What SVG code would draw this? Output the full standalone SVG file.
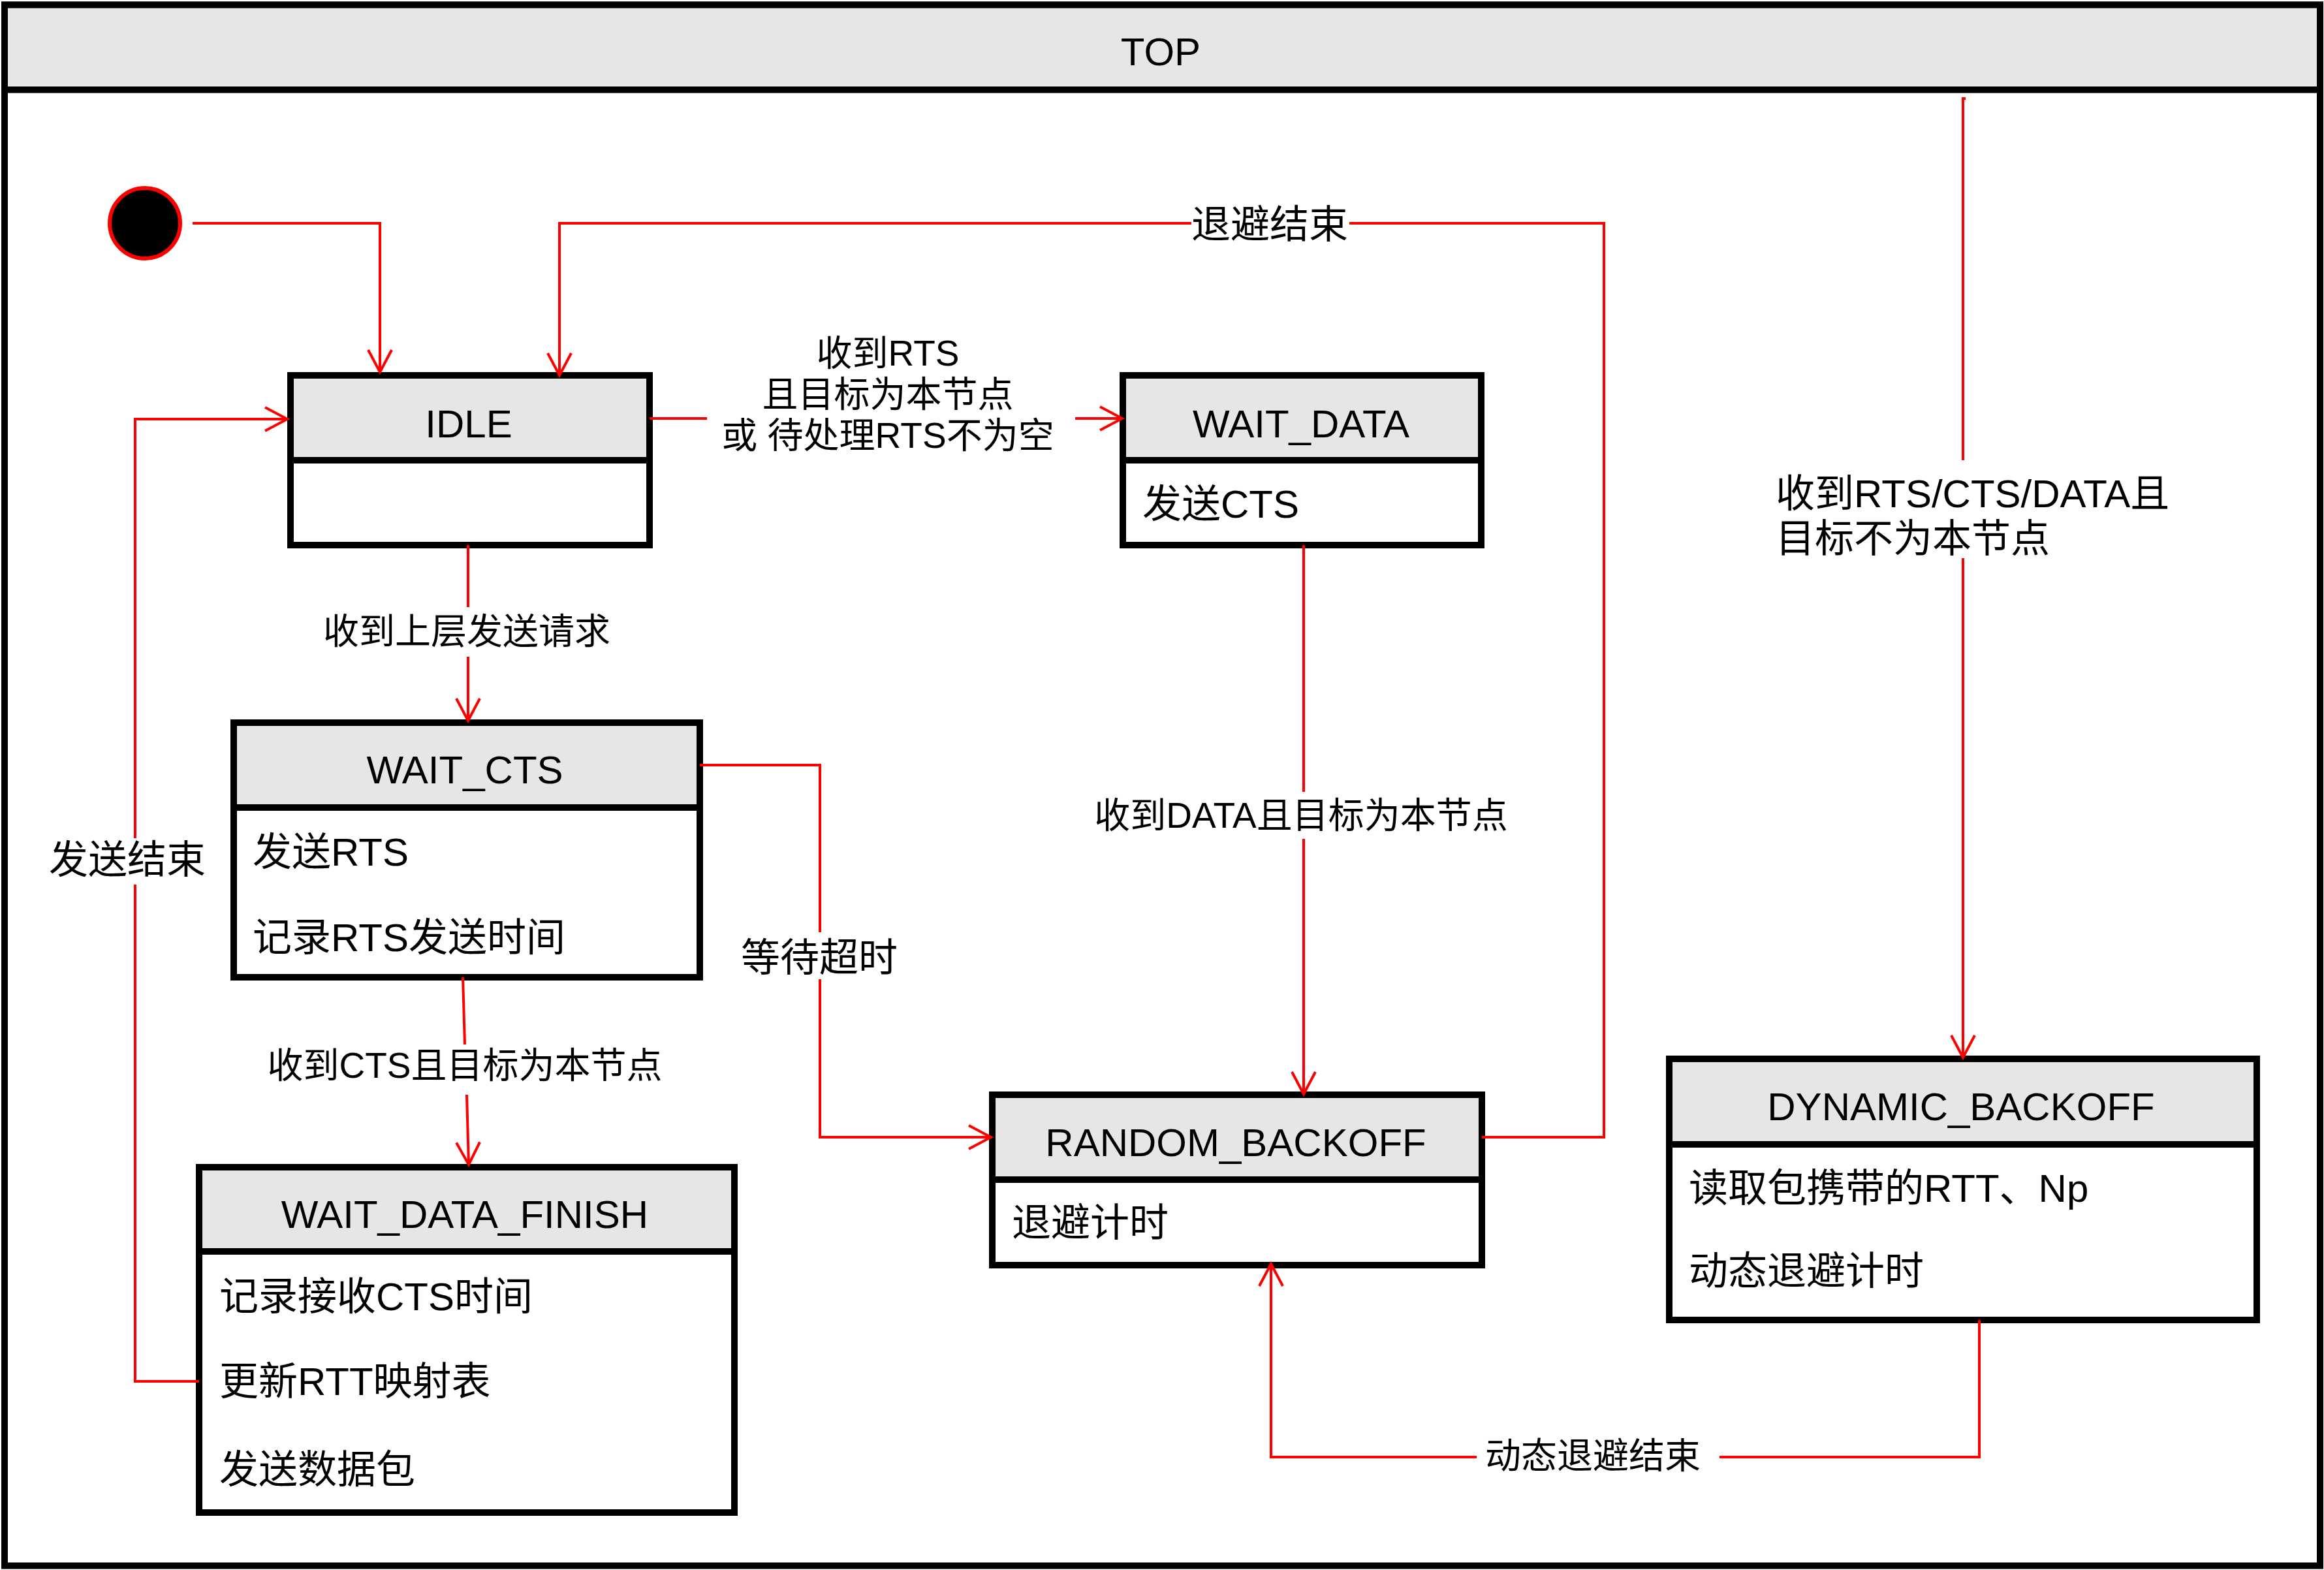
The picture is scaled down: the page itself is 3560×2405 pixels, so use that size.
<svg xmlns="http://www.w3.org/2000/svg" width="3560" height="2405" viewBox="0 0 3560 2405">
<defs>
<style>
text{font-family:"Liberation Sans","Noto Sans CJK SC",sans-serif;fill:#000}
.box{fill:#fff;stroke:#000;stroke-width:10}
.hdr{fill:#e6e6e6;stroke:#000;stroke-width:10}
.t{font-size:60px;text-anchor:middle}
.b{font-size:60px}
.l{font-size:55px;text-anchor:middle}
.l58{font-size:60px;text-anchor:middle}
.c{fill:none;stroke:#f00;stroke-width:4}
.a{marker-end:url(#arr)}
</style>
<marker id="arr" markerUnits="userSpaceOnUse" markerWidth="44" markerHeight="44" viewBox="-40 -22 44 44" refX="0" refY="0" orient="auto" overflow="visible">
<path d="M-34,-18 L0,0 L-34,18" fill="none" stroke="#f00" stroke-width="4"/>
</marker>
</defs>
<rect width="3560" height="2405" fill="#fff"/>
<g id="TOP">
<rect class="box" x="7" y="7.5" width="3547" height="2391"/>
<rect class="hdr" x="7" y="7.5" width="3547" height="130"/>
<text class="t" x="1778" y="100">TOP</text>
</g>
<g id="initial">
<circle cx="222" cy="342" r="54" fill="#000" stroke="#f00" stroke-width="6"/>
</g>
<g id="IDLE">
<rect class="box" x="445" y="575" width="550" height="260"/>
<rect class="hdr" x="445" y="575" width="550" height="130"/>
<text class="t" x="718" y="670">IDLE</text>
</g>
<g id="WAIT_DATA">
<rect class="box" x="1720" y="575" width="549" height="260"/>
<rect class="hdr" x="1720" y="575" width="549" height="130"/>
<text class="t" x="1993" y="670">WAIT_DATA</text>
<text class="b" x="1750" y="793">发送CTS</text>
</g>
<g id="WAIT_CTS">
<rect class="box" x="358" y="1107" width="714" height="390"/>
<rect class="hdr" x="358" y="1107" width="714" height="130"/>
<text class="t" x="712" y="1200">WAIT_CTS</text>
<text class="b" x="387" y="1326">发送RTS</text>
<text class="b" x="387" y="1457">记录RTS发送时间</text>
</g>
<g id="WAIT_DATA_FINISH">
<rect class="box" x="305" y="1788" width="820" height="529"/>
<rect class="hdr" x="305" y="1788" width="820" height="129"/>
<text class="t" x="712" y="1881">WAIT_DATA_FINISH</text>
<text class="b" x="336" y="2007">记录接收CTS时间</text>
<text class="b" x="336" y="2137">更新RTT映射表</text>
<text class="b" x="336" y="2272">发送数据包</text>
</g>
<g id="RANDOM_BACKOFF">
<rect class="box" x="1520" y="1677" width="750" height="261"/>
<rect class="hdr" x="1520" y="1677" width="750" height="130"/>
<text class="t" x="1893" y="1771">RANDOM_BACKOFF</text>
<text class="b" x="1550" y="1894">退避计时</text>
</g>
<g id="DYNAMIC_BACKOFF">
<rect class="box" x="2557" y="1622" width="900" height="400"/>
<rect class="hdr" x="2557" y="1622" width="900" height="131"/>
<text class="t" x="3004" y="1716">DYNAMIC_BACKOFF</text>
<text class="b" x="2587" y="1841">读取包携带的RTT、Np</text>
<text class="b" x="2587" y="1968">动态退避计时</text>
</g>
<g id="connectors">
<path class="c a" d="M295,342 H582 V570"/>
<path class="c" d="M2270,1742 H2457 V342 H2067"/>
<path class="c a" d="M1825,342 H857 V575"/>
<text class="l58" x="1945" y="365">退避结束</text>
<path class="c" d="M995,641 H1083"/>
<path class="c a" d="M1647,641 H1719"/>
<text class="l" x="1360" y="560">收到RTS</text>
<text class="l" x="1360" y="623">且目标为本节点</text>
<text class="l" x="1360" y="686">或 待处理RTS不为空</text>
<path class="c" d="M717,835 V930"/>
<path class="c a" d="M717,1006 V1104"/>
<text class="l" x="715" y="986">收到上层发送请求</text>
<path class="c" d="M709,1497 L712,1600"/>
<path class="c a" d="M715,1677 L718,1784"/>
<text class="l" x="712" y="1651">收到CTS且目标为本节点</text>
<path class="c" d="M1072,1172 H1256 V1428"/>
<path class="c a" d="M1256,1500 V1742 H1518"/>
<text class="l58" x="1255" y="1488">等待超时</text>
<path class="c" d="M1997,835 V1213"/>
<path class="c a" d="M1997,1285 V1676"/>
<text class="l" x="1993" y="1268">收到DATA且目标为本节点</text>
<path class="c" d="M3032,2022 V2232 H2634"/>
<path class="c a" d="M2262,2232 H1947 V1936"/>
<text class="l" x="2440" y="2249">动态退避结束</text>
<path class="c" d="M3011,151 H3007 V705"/>
<path class="c a" d="M3007,855 V1620"/>
<text class="b" x="2720" y="777">收到RTS/CTS/DATA且</text>
<text class="b" x="2720" y="846">目标不为本节点</text>
<path class="c" d="M305,2116 H207 V1355"/>
<path class="c a" d="M207,1284 V642 H440"/>
<text class="l58" x="195" y="1338">发送结束</text>
</g>
</svg>
